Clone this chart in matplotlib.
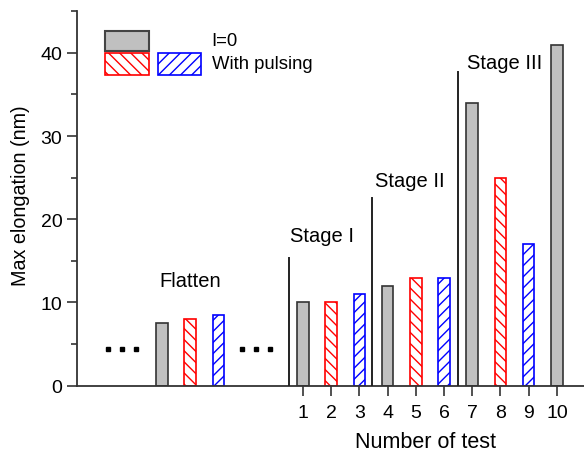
import matplotlib.pyplot as plt
from matplotlib.patches import Rectangle

plt.rcParams['font.family'] = ['Liberation Sans', 'DejaVu Sans']
plt.rcParams['hatch.linewidth'] = 1.0

# bars of the "Flatten" group (no test number)
flat_x = [-4, -3, -2]
flat_vals = [7.5, 8.0, 8.5]
flat_kind = ['none', 'red', 'blue']

# tests 1..10
tests = [1, 2, 3, 4, 5, 6, 7, 8, 9, 10]
test_vals = [10, 10, 11, 12, 13, 13, 34, 25, 17, 41]
test_kind = ['none', 'red', 'blue', 'none', 'red', 'blue', 'none', 'red', 'blue', 'none']

# stage separators and labels
stage_x = [0.5, 3.45, 6.5]
stage_top = [15.4, 22.5, 37.7]
stage_names = ['Stage I', 'Stage II', 'Stage III']
stage_text_x = [0.54, 3.55, 6.8]
stage_text_y = [18.0, 24.7, 38.8]

# the "..." marks
dots_x = [-5.91, -5.41, -4.91, -1.16, -0.67, -0.17]
dots_y = [4.4] * 6

styles = {
    'none': dict(color='#c0c0c0', edgecolor='#333333', hatch=None),
    'red': dict(color='white', edgecolor='red', hatch='\\\\\\'),
    'blue': dict(color='white', edgecolor='blue', hatch='///'),
}

fig = plt.figure(figsize=(5.84, 4.52), dpi=100)
ax = fig.add_axes([0.1318, 0.1445, 0.8682, 0.8283])

w = 0.41
for x, v, k in zip(flat_x + tests, flat_vals + test_vals, flat_kind + test_kind):
    s = styles[k]
    ax.bar(x, v, width=w, color=s['color'], edgecolor=s['edgecolor'],
           hatch=s['hatch'], linewidth=1.2, zorder=2)

for x, top in zip(stage_x, stage_top):
    ax.plot([x, x], [0, top], color='#222222', lw=1.4, zorder=3)
for x, y, t in zip(stage_text_x, stage_text_y, stage_names):
    ax.text(x, y, t, fontsize=14.5, ha='left', va='center')

ax.text(-3, 12.6, 'Flatten', fontsize=14.5, ha='center', va='center')
ax.plot(dots_x, dots_y, 's', color='black', ms=3.2, zorder=3)

ax.set_xlim(-7.01, 10.96)
ax.set_ylim(0, 45)
ax.set_xticks(tests)
ax.set_xticklabels([str(t) for t in tests])
ax.set_yticks([0, 10, 20, 30, 40])
ax.set_yticks([5, 15, 25, 35, 45], minor=True)
ax.tick_params(axis='both', which='major', labelsize=14, length=7, width=1.2,
               direction='out', color='#333333')
ax.tick_params(axis='y', which='minor', length=4, width=1.2, color='#333333')
ax.tick_params(axis='x', pad=6)
ax.spines['top'].set_visible(False)
ax.spines['right'].set_visible(False)
for sp in ['left', 'bottom']:
    ax.spines[sp].set_linewidth(1.3)
    ax.spines[sp].set_color('#333333')

ax.set_xlabel('Number of test', fontsize=15.5)
ax.xaxis.set_label_coords(0.688, -0.12)
ax.set_ylabel('Max elongation (nm)', fontsize=14.2)
ax.yaxis.set_label_coords(-0.093, 0.51)

# hand-made legend
fig.patches.append(Rectangle((0.1798, 0.8843), 0.0753, 0.0456, transform=fig.transFigure,
                             facecolor='#c0c0c0', edgecolor='#444444', lw=1.5))
fig.patches.append(Rectangle((0.1798, 0.8325), 0.0753, 0.0473, transform=fig.transFigure,
                             facecolor='white', edgecolor='red', hatch='\\\\\\', lw=1.2))
fig.patches.append(Rectangle((0.2705, 0.8325), 0.0736, 0.0473, transform=fig.transFigure,
                             facecolor='white', edgecolor='blue', hatch='///', lw=1.2))
fig.text(0.3625, 0.9077, 'I=0', fontsize=13.3, va='center')
fig.text(0.3625, 0.8562, 'With pulsing', fontsize=13.3, va='center')

fig.savefig('out.png', dpi=100)
